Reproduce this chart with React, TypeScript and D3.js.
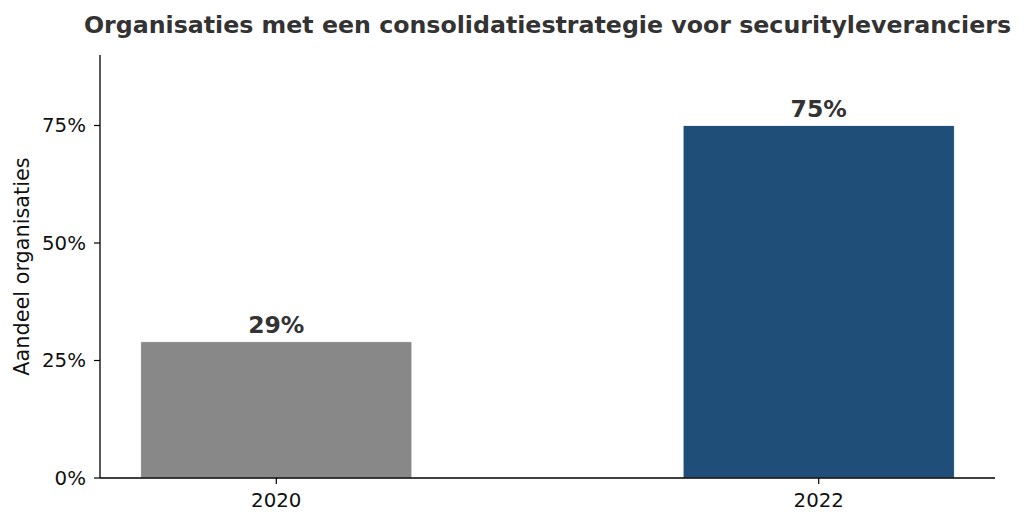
import * as d3 from "d3";

const years = ["2020", "2022"];
const shares = [29, 75];
const barColors = ["#888888", "#1f4e79"];
const yTicks = [0, 25, 50, 75];

const W = 1024;
const H = 525;
const margin = { top: 55, right: 29, bottom: 47, left: 100 };
const font = "'DejaVu Sans', sans-serif";

export default function App() {
  const innerW = W - margin.left - margin.right;
  const innerH = H - margin.top - margin.bottom;

  // matplotlib-like positions: bars at 0 and 1, width 0.5, 5% margin
  const x = d3.scaleLinear().domain([-0.325, 1.325]).range([0, innerW]);
  const y = d3.scaleLinear().domain([0, 90]).range([innerH, 0]);
  const barW = x(0.5) - x(0);

  return (
    <svg
      width={W}
      height={H}
      viewBox={`0 0 ${W} ${H}`}
      style={{ position: "absolute", left: 0, top: 0, background: "#fff" }}
      fontFamily={font}
    >
      <text
        x={margin.left + innerW / 2}
        y={33}
        textAnchor="middle"
        fontSize={23.7}
        fontWeight="bold"
        fill="#333333"
      >
        Organisaties met een consolidatiestrategie voor securityleveranciers
      </text>
      <g transform={`translate(${margin.left},${margin.top})`}>
        {years.map((yr, i) => (
          <g key={yr}>
            <rect
              x={x(i) - barW / 2}
              y={y(shares[i])}
              width={barW}
              height={innerH - y(shares[i])}
              fill={barColors[i]}
              stroke="#ffffff"
              strokeWidth={0.8}
            />
            <text
              x={x(i)}
              y={y(shares[i]) - 9}
              textAnchor="middle"
              fontSize={23.5}
              fontWeight="bold"
              fill="#333333"
            >
              {shares[i]}%
            </text>
          </g>
        ))}
        {/* y axis */}
        <line x1={0} x2={0} y1={0} y2={innerH} stroke="#000" strokeWidth={1.3} />
        {yTicks.map((t) => (
          <g key={t} transform={`translate(0,${y(t)})`}>
            <line x1={-6} x2={0} stroke="#000" strokeWidth={1.2} />
            <text x={-14} dy="0.34em" textAnchor="end" fontSize={19.8} fill="#111">
              {t}%
            </text>
          </g>
        ))}
        {/* x axis */}
        <line x1={0} x2={innerW} y1={innerH} y2={innerH} stroke="#000" strokeWidth={1.3} />
        {years.map((yr, i) => (
          <g key={yr} transform={`translate(${x(i)},${innerH})`}>
            <line y1={0} y2={6} stroke="#000" strokeWidth={1.2} />
            <text y={29} textAnchor="middle" fontSize={19.8} fill="#111">
              {yr}
            </text>
          </g>
        ))}
        <text
          transform={`translate(-71,${innerH / 2}) rotate(-90)`}
          textAnchor="middle"
          fontSize={20.8}
          fill="#111"
        >
          Aandeel organisaties
        </text>
      </g>
    </svg>
  );
}
